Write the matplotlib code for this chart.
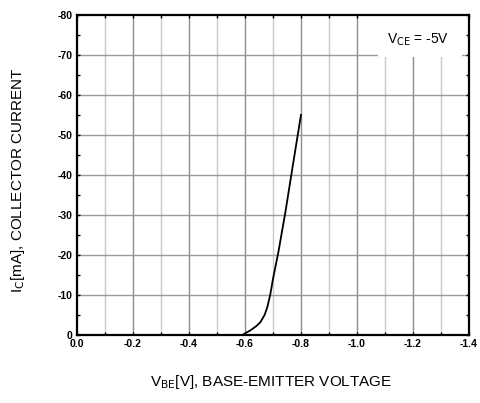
import numpy as np
import matplotlib
matplotlib.use('Agg')
import matplotlib.pyplot as plt
from matplotlib.patches import Rectangle

plt.rcParams['font.family'] = ['Liberation Sans', 'DejaVu Sans']

# I_C vs V_BE, V_CE = -5V
vbe = [-0.59, -0.62, -0.64, -0.655, -0.67, -0.68, -0.69, -0.70, -0.72, -0.745, -0.77, -0.80]
ic = [0.0, -1.2, -2.2, -3.2, -5.0, -7.0, -10.0, -14.0, -21.0, -31.0, -42.0, -55.0]

xticks = [0.0, -0.2, -0.4, -0.6, -0.8, -1.0, -1.2, -1.4]
yticks = [0, -10, -20, -30, -40, -50, -60, -70, -80]

fig = plt.figure(figsize=(4.8, 4.03), dpi=100)
ax = fig.add_axes([0.1604, 0.1687, 0.8166, 0.7941])

ax.set_xlim(0, -1.4)
ax.set_ylim(0, -80)

# grid: light minor lines at 0.1, darker at 0.2 and every 10 mA
for x in np.arange(-0.1, -1.4, -0.2):
    ax.axvline(x, color='#c8c8c8', lw=1.0, zorder=1)
for x in xticks[1:-1]:
    ax.axvline(x, color='#8c8c8c', lw=1.0, zorder=1)
for y in yticks[1:-1]:
    ax.axhline(y, color='#9a9a9a', lw=1.0, zorder=1)

ax.plot(vbe, ic, color='black', lw=1.3, zorder=3)

ax.set_xticks(xticks)
ax.set_xticklabels(['%.1f' % v for v in xticks], fontsize=7.5, fontweight='bold')
ax.set_yticks(yticks)
ax.set_yticklabels([str(v) for v in yticks], fontsize=7.5, fontweight='bold')
ax.set_xticks(np.arange(-0.1, -1.4, -0.2), minor=True)
ax.set_yticks(np.arange(-5, -80, -10), minor=True)
ax.tick_params(which='both', direction='in', top=True, right=True, length=2, width=1, pad=3)

for s in ax.spines.values():
    s.set_linewidth(1.6)

# white label box over the grid
ax.add_patch(Rectangle((0.768, 0.869), 0.214, 0.131, transform=ax.transAxes,
                       facecolor='white', edgecolor='none', zorder=2))
ax.text(0.870, 0.922, r'V$_{\rm CE}$ = -5V', transform=ax.transAxes, ha='center', va='center',
        fontsize=10, zorder=4)

fig.text(0.565, 0.052, r'V$_{\rm BE}$[V], BASE-EMITTER VOLTAGE', ha='center', va='center', fontsize=11)
fig.text(0.038, 0.553, r'I$_{\rm C}$[mA], COLLECTOR CURRENT', ha='center', va='center', fontsize=11, rotation=90)

fig.savefig('out.png', dpi=100)
